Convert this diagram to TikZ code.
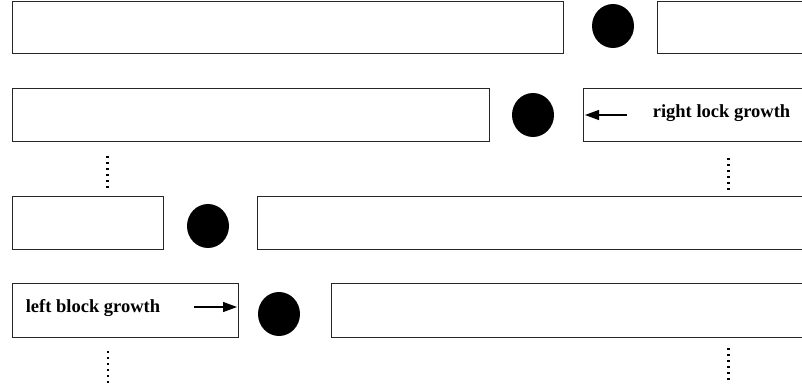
\documentclass[tikz,border=0pt]{standalone}
\usepackage{fontspec}
\setmainfont{Liberation Serif}
\usetikzlibrary{arrows.meta,shapes.geometric}
\begin{document}
\begin{tikzpicture}[x=1pt,y=-1pt,
  blk/.style={draw=black!85,line width=1.1pt,inner sep=0pt,anchor=north west},
  dot/.style={fill=black,draw=none,ellipse,minimum width=42pt,minimum height=44pt,inner sep=0pt},
  lbl/.style={font=\bfseries\fontsize{18.5}{20}\selectfont,inner sep=0pt},
  vdots/.style={line width=2.2pt,dash pattern=on 2.2pt off 3.8pt},
  growarrow/.style={line width=1.1pt,-{Triangle[length=14pt,width=10pt]}}]
\useasboundingbox (0,0) rectangle (802,388);
% row 1
\node[blk,minimum width=551pt,minimum height=52pt] (a1) at (12,0.5) {};
\node[dot] (c1) at (613,26) {};
\node[blk,minimum width=145pt,minimum height=52pt] (b1) at (657,0.5) {};
% row 2
\node[blk,minimum width=477pt,minimum height=53pt] (a2) at (12,88) {};
\node[dot] (c2) at (533,115) {};
\node[blk,minimum width=219pt,minimum height=53pt] (b2) at (583,88) {};
\node[lbl] (t2) at (721.5,113) {right lock growth};
\coordinate (s2) at (627,115);
\coordinate (e2) at (585,115);
\draw[growarrow] (s2) -- (e2);
% dots between
\coordinate (d1a) at (107.5,156);
\coordinate (d1b) at (107.5,190);
\coordinate (d2a) at (728.5,158);
\coordinate (d2b) at (728.5,192);
\draw[vdots] (d1a) -- (d1b);
\draw[vdots] (d2a) -- (d2b);
% row 3
\node[blk,minimum width=151pt,minimum height=53pt] (a3) at (12,195.5) {};
\node[dot] (c3) at (208,226) {};
\node[blk,minimum width=545pt,minimum height=53pt] (b3) at (257,195.5) {};
% row 4
\node[blk,minimum width=226pt,minimum height=54pt] (a4) at (12,283) {};
\node[lbl] (t4) at (93,308) {left block growth};
\coordinate (s4) at (194,307);
\coordinate (e4) at (237,307);
\draw[growarrow] (s4) -- (e4);
\node[dot] (c4) at (279,314) {};
\node[blk,minimum width=471pt,minimum height=54pt] (b4) at (331,283) {};
\coordinate (d3a) at (108,351);
\coordinate (d3b) at (108,385);
\coordinate (d4a) at (728.5,348);
\coordinate (d4b) at (728.5,382);
\draw[vdots] (d3a) -- (d3b);
\draw[vdots] (d4a) -- (d4b);
\end{tikzpicture}
\end{document}
